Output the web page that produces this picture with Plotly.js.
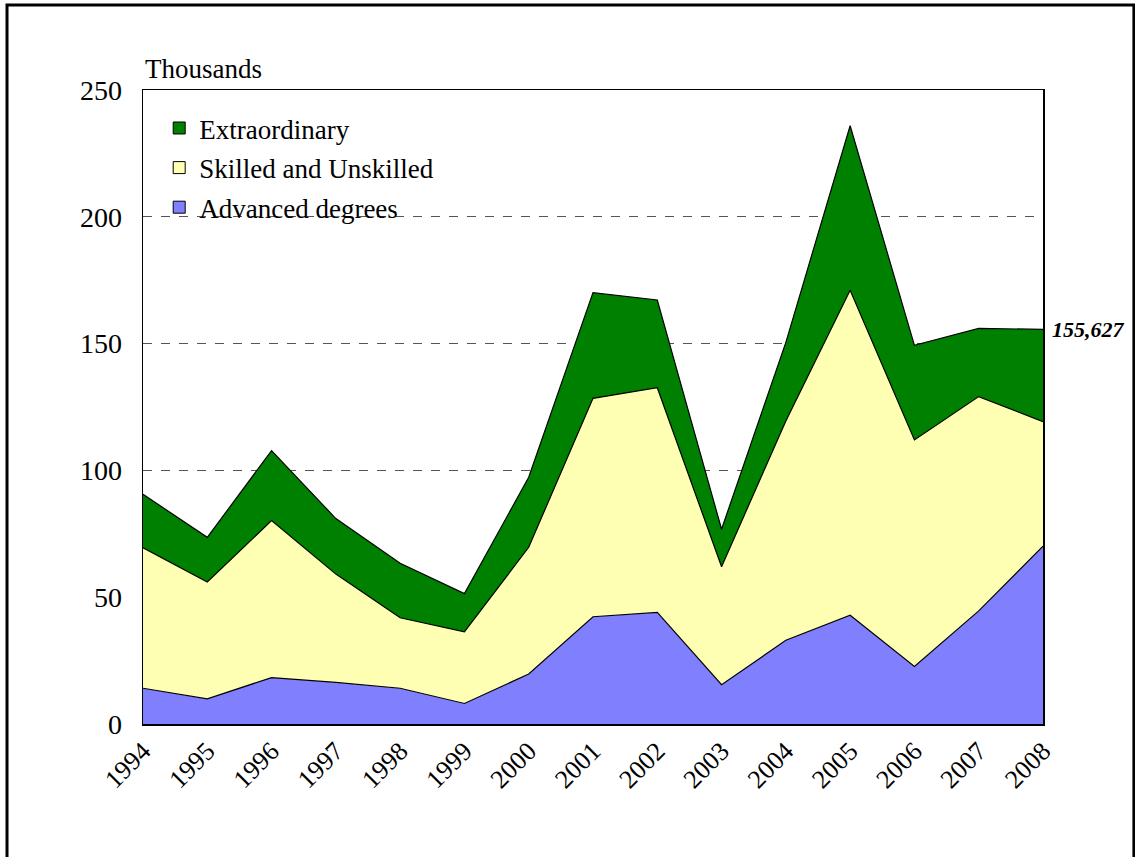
<!DOCTYPE html>
<html>
<head>
<meta charset="utf-8">
<script src="https://cdn.plot.ly/plotly-3.0.1.min.js"></script>
<style>
html,body{margin:0;padding:0;background:#fff;}
#chart{width:1135px;height:857px;}
</style>
</head>
<body>
<div id="chart"></div>
<script>
const years = ["1994","1995","1996","1997","1998","1999","2000","2001","2002","2003","2004","2005","2006","2007","2008"];
const advancedDegrees = [14.1, 9.9, 18.3, 16.4, 14.1, 8.1, 19.7, 42.3, 44.0, 15.5, 33.0, 42.9, 22.7, 44.6, 70.1];
const skilledUnskilled = [55.4, 46.1, 61.9, 42.7, 27.8, 28.2, 50.0, 86.1, 88.6, 46.5, 86.5, 128.1, 89.3, 84.5, 49.1];
const extraordinary = [21.1, 17.6, 27.6, 21.9, 21.5, 15.1, 27.6, 41.7, 34.6, 14.8, 31.0, 64.9, 37.3, 26.9, 36.4];
const seriesNames = ["Advanced degrees", "Skilled and Unskilled", "Extraordinary"];
const seriesColors = ["#8080FF", "#FFFFB3", "#008000"];
const lastLabel = "155,627";
const lastTotal = 155.627;
const yTicks = [0, 50, 100, 150, 200, 250];

const serif = "Liberation Serif, Times New Roman, serif";
const seriesValues = [advancedDegrees, skilledUnskilled, extraordinary];

const data = [];
seriesValues.forEach((vals, i) => {
  data.push({
    type: "scatter", mode: "lines", name: seriesNames[i], x: years, y: vals,
    stackgroup: "one", fillcolor: seriesColors[i], showlegend: false,
    line: {color: "#000", width: 1.2, shape: "linear"}, hoverinfo: "skip"
  });
});
// legend entries (boxes) in top-down order
[2, 1, 0].forEach((i, k) => {
  data.push({
    type: "bar", name: seriesNames[i], x: [null], y: [null],
    marker: {color: seriesColors[i], line: {color: "#000", width: 1}},
    legendgroup: "g" + k, legendrank: k + 1, showlegend: true, hoverinfo: "skip"
  });
});

const layout = {
  width: 1135, height: 857,
  margin: {l: 143, r: 92, t: 90, b: 133},
  paper_bgcolor: "#fff", plot_bgcolor: "#fff",
  font: {family: serif, color: "#000", size: 26},
  showlegend: true,
  legend: {
    x: 0.018, y: 0.978, xanchor: "left", yanchor: "top",
    traceorder: "grouped", tracegroupgap: 1.5,
    bgcolor: "rgba(0,0,0,0)", font: {family: serif, size: 27, color: "#000"},
    itemwidth: 30
  },
  xaxis: {
    type: "category", range: [0, 14],
    showgrid: false, zeroline: false,
    showline: true, linecolor: "#000", linewidth: 1.5, mirror: true,
    ticks: "", tickangle: -45,
    tickfont: {family: serif, size: 26, color: "#000"}
  },
  yaxis: {
    range: [0, 250], tickvals: yTicks, ticktext: yTicks.map(String),
    showgrid: true, gridcolor: "#555", griddash: "dash", gridwidth: 1,
    zeroline: false,
    showline: true, linecolor: "#000", linewidth: 1.5, mirror: true,
    ticks: "", ticklabelstandoff: 14,
    tickfont: {family: serif, size: 28, color: "#000"}
  },
  annotations: [
    {xref: "paper", yref: "paper", x: 0.0, y: 1.006, xanchor: "left", yanchor: "bottom",
     text: "Thousands", showarrow: false, font: {family: serif, size: 27, color: "#000"}},
    {xref: "paper", yref: "y", x: 1.008, y: lastTotal, xanchor: "left", yanchor: "middle",
     text: "<b><i>" + lastLabel + "</i></b>", showarrow: false,
     font: {family: serif, size: 22, color: "#000"}}
  ],
  shapes: [
    {type: "rect", xref: "paper", yref: "paper",
     x0: -0.1511, x1: 1.101, y0: -0.3, y1: 1.134,
     line: {color: "#000", width: 3}, fillcolor: "rgba(0,0,0,0)", layer: "above"}
  ]
};

Plotly.newPlot("chart", data, layout, {displayModeBar: false, staticPlot: true});
</script>
</body>
</html>
